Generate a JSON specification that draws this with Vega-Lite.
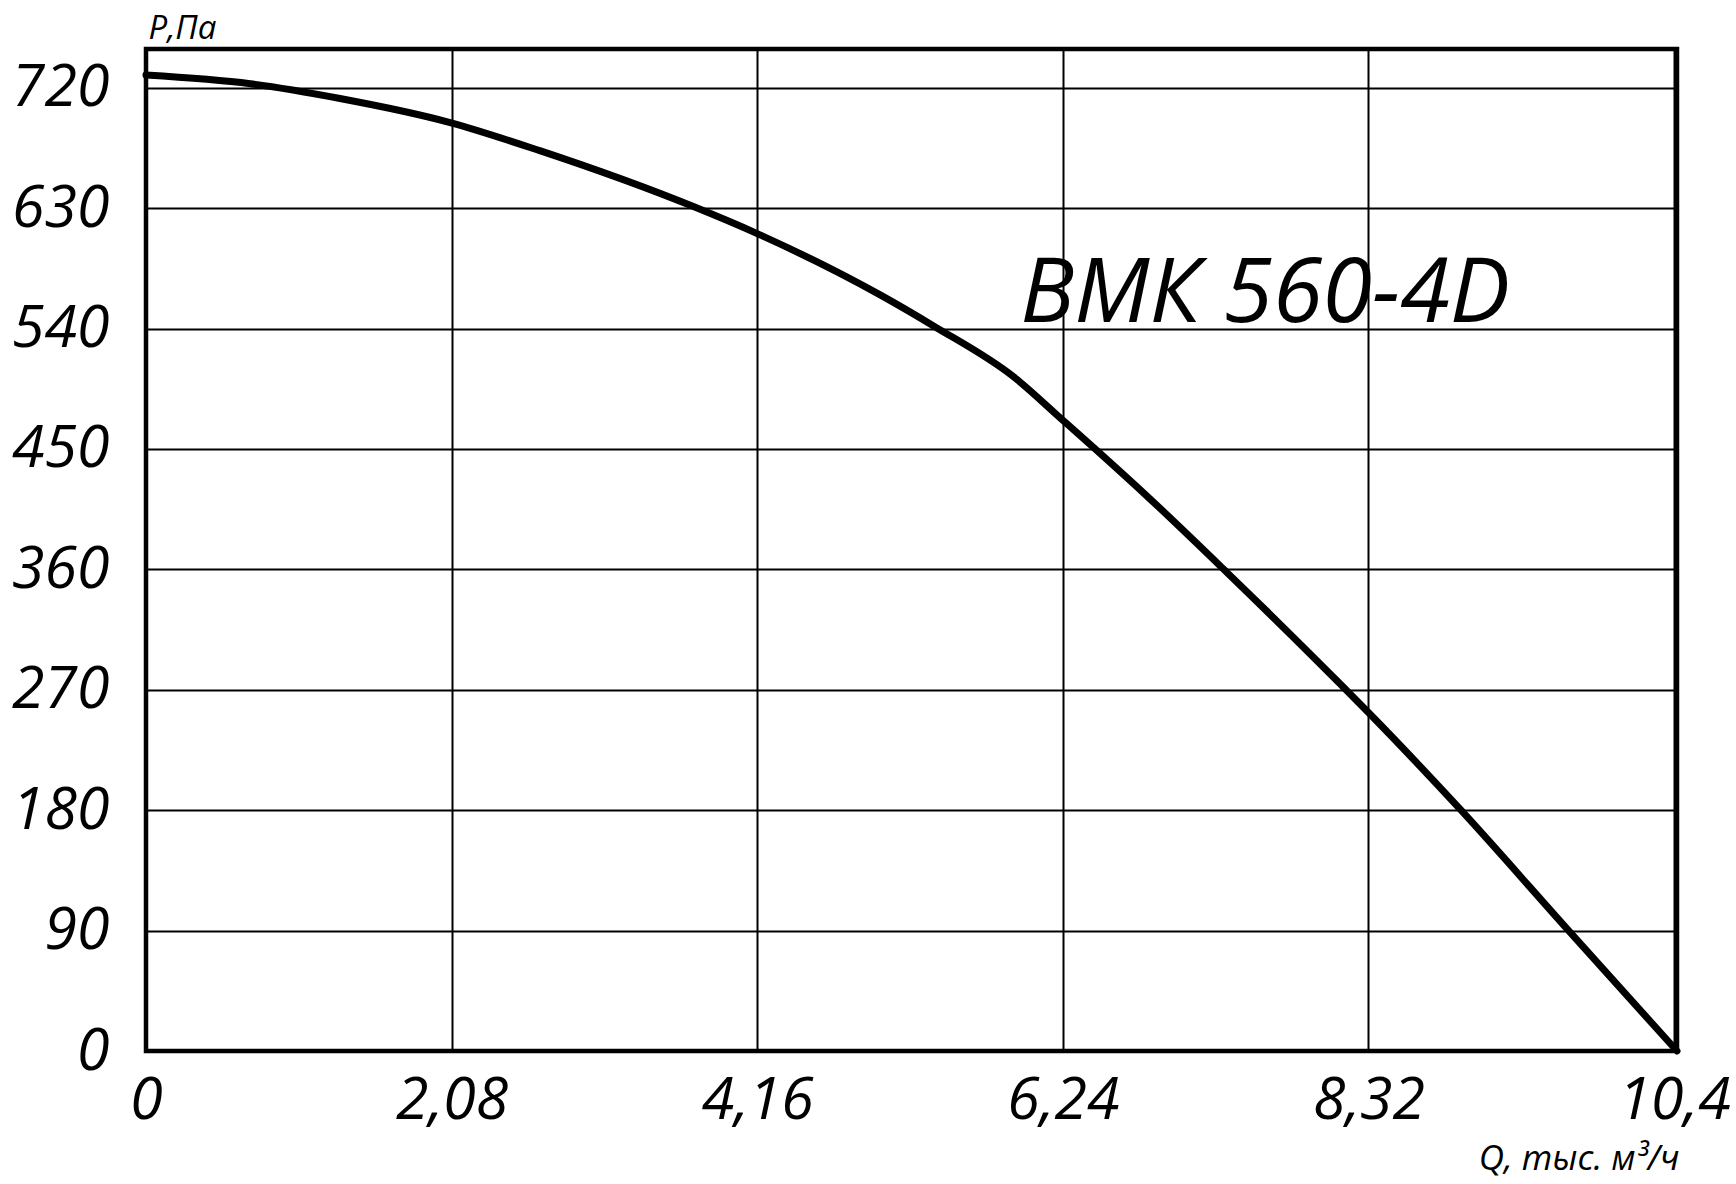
{
  "$schema": "https://vega.github.io/schema/vega-lite/v6.json",
  "width": 1531,
  "height": 1002,
  "autosize": "none",
  "padding": {"left": 146, "top": 49, "right": 59, "bottom": 133},
  "background": "white",
  "config": {
    "view": {"stroke": "black", "strokeWidth": 4.5, "fill": "white"},
    "font": "Open Sans"
  },
  "datasets": {
    "curve": [
      {"q": 0, "p": 729.5},
      {"q": 0.71, "p": 723},
      {"q": 1.32, "p": 712},
      {"q": 2.07, "p": 694},
      {"q": 2.68, "p": 673},
      {"q": 3.73, "p": 631},
      {"q": 4.16, "p": 611},
      {"q": 5.0, "p": 565},
      {"q": 5.36, "p": 542},
      {"q": 5.905, "p": 504},
      {"q": 6.235, "p": 472},
      {"q": 6.45, "p": 451},
      {"q": 6.84, "p": 412},
      {"q": 7.35, "p": 358.5},
      {"q": 8.14, "p": 273},
      {"q": 8.32, "p": 253},
      {"q": 8.95, "p": 180},
      {"q": 9.69, "p": 89},
      {"q": 10.42, "p": 0}
    ],
    "label": [
      {"q": 5.95, "p": 545, "text": "ВМК 560-4D"}
    ]
  },
  "layer": [
    {
      "data": {"name": "curve"},
      "mark": {"type": "line", "color": "black", "strokeWidth": 7, "strokeCap": "round", "strokeJoin": "round", "interpolate": "monotone"},
      "encoding": {
        "x": {
          "field": "q", "type": "quantitative",
          "scale": {"domain": [0, 10.42], "nice": false, "zero": false},
          "axis": {
            "values": [0, 2.08, 4.16, 6.24, 8.32, 10.4],
            "labelExpr": "replace(format(datum.value, '.3~f'), '.', ',')",
            "grid": true, "gridColor": "black", "gridWidth": 2, "gridOpacity": 1,
            "domain": false, "ticks": false,
            "labelFont": "Open Sans", "labelFontStyle": "italic", "labelFontSize": 59, "labelColor": "black",
            "labelPadding": 20, "labelBaseline": "top", "labelAlign": "center", "labelFlush": false, "labelOverlap": false,
            "title": "Q, тыс. м³/ч",
            "titleFont": "Open Sans", "titleFontStyle": "italic", "titleFontSize": 35, "titleFontWeight": "normal", "titleColor": "black",
            "titleAnchor": "end", "titleAlign": "right", "titleBaseline": "alphabetic",
            "titleX": 1533, "titleY": 118
          }
        },
        "y": {
          "field": "p", "type": "quantitative",
          "scale": {"domain": [0, 749], "nice": false, "zero": false},
          "axis": {
            "values": [0, 90, 180, 270, 360, 450, 540, 630, 720],
            "grid": true, "gridColor": "black", "gridWidth": 2, "gridOpacity": 1,
            "domain": false, "ticks": false,
            "labelFont": "Open Sans", "labelFontStyle": "italic", "labelFontSize": 59, "labelColor": "black",
            "labelPadding": 37, "labelBaseline": "middle", "labelFlush": false, "labelOverlap": false,
            "title": "P,Па",
            "titleFont": "Open Sans", "titleFontStyle": "italic", "titleFontSize": 33, "titleFontWeight": "normal", "titleColor": "black",
            "titleAngle": 0, "titleAlign": "left", "titleBaseline": "alphabetic",
            "titleX": 2, "titleY": -11
          }
        }
      }
    },
    {
      "data": {"name": "label"},
      "mark": {"type": "text", "font": "Open Sans", "fontStyle": "italic", "fontSize": 90, "color": "black", "align": "left", "baseline": "alphabetic"},
      "encoding": {
        "x": {"field": "q", "type": "quantitative"},
        "y": {"field": "p", "type": "quantitative"},
        "text": {"field": "text"}
      }
    }
  ]
}
